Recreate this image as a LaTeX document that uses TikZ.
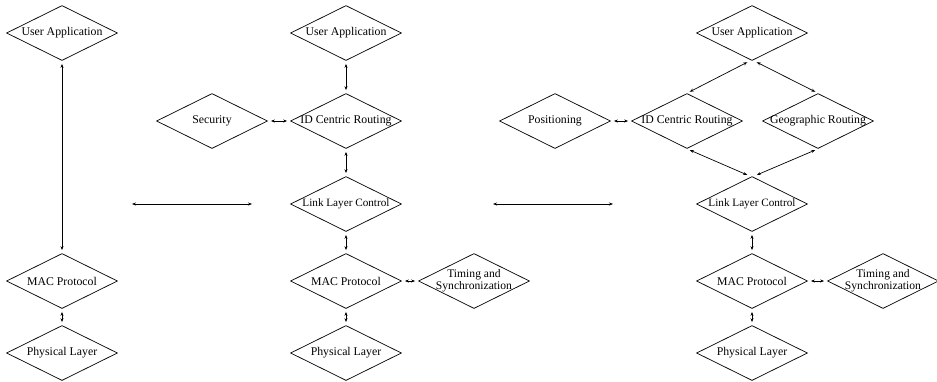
\documentclass[tikz,border=0pt]{standalone}
\usepackage{fontspec}
\setmainfont{Liberation Serif}
\usetikzlibrary{shapes.geometric,arrows.meta}

\tikzset{
  layer/.style={diamond, draw, line width=0.7pt, inner sep=0pt,
    minimum width=111pt, minimum height=55pt,
    font=\fontsize{11.8}{13}\selectfont},
  link/.style={{Stealth[length=4pt,width=3pt]}-{Stealth[length=4pt,width=3pt]},
    line width=0.7pt, shorten <=3pt, shorten >=3pt}
}
% node text is centred in a zero-width box so every diamond keeps the same size
\newcommand{\lbl}[1]{\makebox[0pt]{#1}}
\newcommand{\lbltwo}[2]{\makebox[0pt]{\fontsize{11.6}{13}\selectfont\begin{tabular}{@{}c@{}}#1\\[-1pt]#2\end{tabular}}}
\newcommand{\llctext}{\fontsize{11.2}{12}\selectfont Link Layer Control}

\begin{document}
\begin{tikzpicture}[x=1pt,y=-1pt]
\useasboundingbox (0,0) rectangle (937,381);

% ---- plain stack ----
\node[layer] (ua1)  at (62,33)  {\lbl{User Application}};
\node[layer] (mac1) at (62,281) {\lbl{MAC Protocol}};
\node[layer] (phy1) at (62,353) {\lbl{Physical Layer}};
\draw[link] (ua1.south) -- (mac1.north);
\draw[link] (mac1.south) -- (phy1.north);

% ---- ID centric stack ----
\node[layer] (ua2)  at (346,33)  {\lbl{User Application}};
\node[layer] (idr2) at (346,121) {\lbl{ID Centric Routing}};
\node[layer] (sec)  at (212,121) {\lbl{Security}};
\node[layer] (llc2) at (346,204) {\lbl{\llctext}};
\node[layer] (mac2) at (346,281) {\lbl{MAC Protocol}};
\node[layer] (tim2) at (474,281) {\lbltwo{Timing and}{Synchronization}};
\node[layer] (phy2) at (346,353) {\lbl{Physical Layer}};
\draw[link] (ua2.south) -- (idr2.north);
\draw[link] (sec.east) -- (idr2.west);
\draw[link] (idr2.south) -- (llc2.north);
\draw[link] (llc2.south) -- (mac2.north);
\draw[link] (mac2.east) -- (tim2.west);
\draw[link] (mac2.south) -- (phy2.north);

% ---- ID centric + geographic stack ----
\node[layer] (ua3)  at (752,33)  {\lbl{User Application}};
\node[layer] (idr3) at (687,121) {\lbl{ID Centric Routing}};
\node[layer] (geo3) at (818,121) {\lbl{Geographic Routing}};
\node[layer] (pos3) at (555,121) {\lbl{Positioning}};
\node[layer] (llc3) at (752,204) {\lbl{\llctext}};
\node[layer] (mac3) at (752,281) {\lbl{MAC Protocol}};
\node[layer] (tim3) at (883,281) {\lbltwo{Timing and}{Synchronization}};
\node[layer] (phy3) at (752,353) {\lbl{Physical Layer}};
\draw[link] ([xshift=-2pt]ua3.south) -- (idr3.north);
\draw[link] ([xshift=2pt]ua3.south) -- (geo3.north);
\draw[link] (pos3.east) -- (idr3.west);
\draw[link] (idr3.south) -- ([xshift=-2pt]llc3.north);
\draw[link] (geo3.south) -- ([xshift=2pt]llc3.north);
\draw[link] (llc3.south) -- (mac3.north);
\draw[link] (mac3.east) -- (tim3.west);
\draw[link] (mac3.south) -- (phy3.north);

% ---- transitions between the stacks ----
\coordinate (t1a) at (129,204);
\coordinate (t1b) at (255,204);
\coordinate (t2a) at (490,204);
\coordinate (t2b) at (616,204);
\draw[link] (t1a) -- (t1b);
\draw[link] (t2a) -- (t2b);
\end{tikzpicture}
\end{document}
